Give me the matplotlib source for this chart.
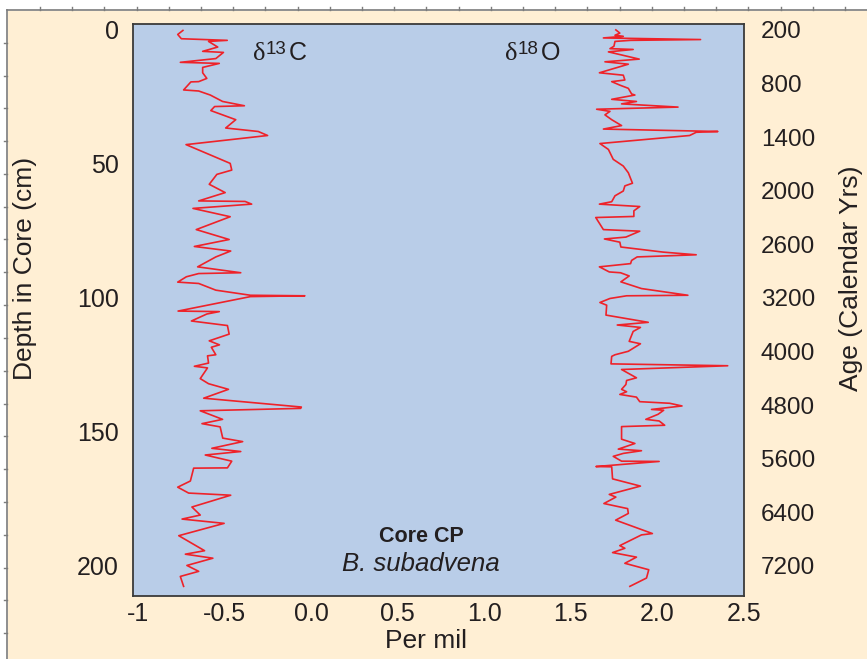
import matplotlib
matplotlib.use('Agg')
import matplotlib.pyplot as plt
from matplotlib.lines import Line2D
from matplotlib.patches import Rectangle

W, H = 867, 659

# ---------------- data ----------------
d13c_depth = [0.2, 1.7, 3.3, 3.9, 4.3, 6.4, 8.0, 8.4, 10.7, 12.1, 12.5, 14.0, 16.0, 18.1,
              19.3, 19.4, 22.4, 22.8, 24.3, 26.7, 28.3, 28.6, 30.1, 33.5, 36.6, 37.9, 39.4,
              42.8, 49.8, 52.3, 53.9, 57.6, 60.7, 63.8, 64.0, 65.0, 66.6, 69.7, 74.5, 78.2,
              80.8, 82.5, 84.7, 88.4, 90.6, 90.9, 92.1, 94.1, 94.6, 97.1, 99.0, 99.2, 99.5,
              104.9, 105.1, 106.0, 108.6, 110.3, 113.5, 116.0, 117.5, 118.4, 121.2, 121.6,
              124.3, 125.5, 126.1, 130.1, 132.0, 134.1, 137.4, 140.7, 141.2, 142.1, 145.3,
              146.9, 148.1, 152.3, 153.6, 156.1, 157.3, 158.6, 160.9, 163.4, 163.5, 168.3,
              170.6, 172.8, 173.6, 178.0, 181.0, 182.5, 184.1, 188.7, 194.3, 195.6, 197.1,
              199.8, 202.0, 203.9, 207.6]
d13c_value = [-0.740, -0.770, -0.749, -0.484, -0.592, -0.539, -0.626, -0.506, -0.550, -0.755,
              -0.530, -0.626, -0.626, -0.602, -0.649, -0.694, -0.736, -0.649, -0.582, -0.511,
              -0.385, -0.557, -0.579, -0.435, -0.493, -0.305, -0.251, -0.722, -0.467, -0.458,
              -0.544, -0.588, -0.496, -0.649, -0.381, -0.343, -0.682, -0.467, -0.663, -0.473,
              -0.674, -0.464, -0.550, -0.655, -0.406, -0.649, -0.720, -0.770, -0.649, -0.550,
              -0.350, -0.036, -0.350, -0.768, -0.530, -0.602, -0.691, -0.483, -0.473, -0.588,
              -0.529, -0.576, -0.550, -0.598, -0.592, -0.674, -0.598, -0.640, -0.592, -0.477,
              -0.620, -0.056, -0.060, -0.640, -0.511, -0.630, -0.525, -0.510, -0.395, -0.573,
              -0.406, -0.611, -0.458, -0.483, -0.678, -0.697, -0.770, -0.707, -0.464, -0.688,
              -0.640, -0.745, -0.502, -0.764, -0.615, -0.726, -0.567, -0.717, -0.649, -0.755,
              -0.736]

d18o_depth = [0.0, 1.2, 2.0, 2.4, 3.0, 3.6, 3.9, 4.3, 6.1, 7.0, 7.3, 8.2, 10.9, 11.9, 12.8,
              16.0, 16.9, 18.7, 19.3, 20.6, 21.8, 23.9, 24.3, 25.9, 26.7, 27.6, 28.8, 29.6,
              30.4, 31.7, 33.5, 35.7, 37.0, 37.9, 38.2, 39.4, 42.4, 44.6, 48.3, 50.8, 53.3,
              57.2, 58.2, 60.1, 61.9, 64.1, 65.0, 65.9, 67.5, 69.6, 70.0, 74.5, 75.1, 77.3,
              78.0, 79.2, 81.0, 82.9, 83.9, 84.7, 86.0, 87.2, 88.4, 90.3, 90.6, 91.8, 94.0,
              96.5, 99.0, 99.2, 100.2, 101.7, 102.7, 106.4, 109.1, 110.1, 111.0, 112.5, 116.2,
              117.1, 119.9, 121.2, 121.8, 124.6, 125.3, 126.7, 129.8, 130.8, 132.3, 134.1,
              135.0, 136.0, 137.0, 138.7, 139.3, 140.3, 141.6, 141.9, 143.4, 145.3, 145.9,
              147.5, 148.0, 152.7, 154.3, 156.4, 157.0, 158.0, 159.1, 160.9, 161.0, 162.9,
              163.0, 167.5, 170.2, 172.4, 173.3, 174.3, 176.7, 178.6, 180.4, 182.9, 187.9,
              188.4, 192.4, 193.4, 195.0, 196.7, 199.0, 201.4, 204.5, 207.6]
d18o_value = [1.760, 1.783, 1.755, 1.803, 1.688, 2.249, 1.845, 1.755, 1.749, 1.726, 1.860,
              1.717, 1.895, 1.697, 1.832, 1.665, 1.803, 1.812, 1.736, 1.783, 1.832, 1.851,
              1.870, 1.736, 1.879, 1.793, 2.119, 1.649, 1.726, 1.697, 1.736, 1.793, 1.688,
              2.349, 2.224, 2.186, 1.668, 1.717, 1.745, 1.803, 1.832, 1.856, 1.812, 1.803,
              1.755, 1.736, 1.665, 1.898, 1.864, 1.864, 1.644, 1.688, 1.898, 1.818, 1.694,
              1.783, 1.789, 2.033, 2.224, 1.883, 1.851, 1.845, 1.665, 1.722, 1.787, 1.837,
              1.789, 1.908, 2.176, 1.822, 1.726, 1.668, 1.707, 1.703, 1.947, 1.768, 1.902,
              1.860, 1.837, 1.902, 1.832, 1.755, 1.736, 1.732, 2.406, 1.793, 1.879, 1.822,
              1.818, 1.793, 1.822, 1.783, 1.879, 1.898, 2.071, 2.142, 1.966, 2.036, 2.004,
              1.933, 2.010, 2.042, 1.793, 1.793, 1.870, 1.774, 1.908, 1.803, 1.745, 1.793,
              2.010, 1.645, 1.736, 1.741, 1.902, 1.774, 1.722, 1.760, 1.691, 1.828, 1.832,
              1.759, 1.971, 1.908, 1.783, 1.812, 1.741, 1.879, 1.812, 1.950, 1.937, 1.841]

x_ticks = [-1, -0.5, 0.0, 0.5, 1.0, 1.5, 2.0, 2.5]
x_tick_labels = ['-1', '-0.5', '0.0', '0.5', '1.0', '1.5', '2.0', '2.5']
depth_ticks = [0, 50, 100, 150, 200]
age_tick_depths = [0, 20, 40, 60, 80, 100, 120, 140, 160, 180, 200]
age_labels = ['200', '800', '1400', '2000', '2600', '3200', '4000', '4800', '5600', '6400', '7200']

# ---------------- style ----------------
CREAM = '#FFEFD4'
PLOT_BG = '#B9CDE8'
LINE_RED = '#EE2229'
TEXT = '#231F20'
FRAME = '#7C7C7C'
SANS = 'Liberation Sans'


def px(x):
    return x / W


def py(y):
    return 1 - y / H


fig = plt.figure(figsize=(W / 100, H / 100), dpi=100)
fig.patch.set_facecolor('white')

# cream page with ruler-like frame
fig.add_artist(Rectangle((px(7.5), 0), 1 - px(7.5), py(10.5), transform=fig.transFigure,
                         facecolor=CREAM, edgecolor='none', zorder=-10))
fig.add_artist(Line2D([px(7), 1], [py(10), py(10)], transform=fig.transFigure,
                      color=FRAME, lw=1.2))
fig.add_artist(Line2D([px(7), px(7)], [py(10), 0], transform=fig.transFigure,
                      color=FRAME, lw=1.2))
xt = 40.0
while xt < W:
    fig.add_artist(Line2D([px(xt), px(xt)], [py(10), py(7)], transform=fig.transFigure,
                          color=FRAME, lw=1.0))
    xt += 32.2
yt = 42.7
while yt < H:
    fig.add_artist(Line2D([px(7), px(4)], [py(yt), py(yt)], transform=fig.transFigure,
                          color=FRAME, lw=1.0))
    yt += 32.8

# main axes
left, right, top, bottom = 132.7, 744.0, 24.0, 596.0
ax = fig.add_axes([px(left), py(bottom), px(right - left), (bottom - top) / H])
ax.set_facecolor(PLOT_BG)
for s in ax.spines.values():
    s.set_color('#3A3A3A')
    s.set_linewidth(1.3)

ax.plot(d13c_value, d13c_depth, color=LINE_RED, lw=1.2)
ax.plot(d18o_value, d18o_depth, color=LINE_RED, lw=1.2)

ax.set_xlim(-1.03, 2.5)
ax.set_ylim(211.2, -2.2)

ax.set_xticks(x_ticks)
ax.set_xticklabels(x_tick_labels, family=SANS, size=18, color=TEXT)
ax.set_yticks(depth_ticks)
ax.set_yticklabels([str(d) for d in depth_ticks], family=SANS, size=18, color=TEXT)
ax.tick_params(axis='x', length=0, pad=4)
ax.tick_params(axis='y', length=0, pad=10)

ax2 = ax.twinx()
ax2.set_ylim(ax.get_ylim())
ax2.set_yticks(age_tick_depths)
ax2.set_yticklabels(age_labels, family=SANS, size=17.5, color=TEXT)
ax2.tick_params(axis='y', length=0, pad=12)
for s in ax2.spines.values():
    s.set_visible(False)

# axis titles
fig.text(px(426), py(641), 'Per mil', family=SANS, size=19, color=TEXT,
         ha='center', va='center')
fig.text(px(25), py(268), 'Depth in Core (cm)', family=SANS, size=19, color=TEXT,
         rotation=90, ha='center', va='center')
fig.text(px(851), py(278), 'Age (Calendar Yrs)', family=SANS, size=19, color=TEXT,
         rotation=90, ha='center', va='center')

# in-plot annotations
fig.text(px(421), py(536), 'Core CP', family=SANS, size=15.5, weight='bold', color=TEXT,
         ha='center', va='center')
fig.text(px(421), py(564), 'B. subadvena', family=SANS, size=18.5, style='italic', color=TEXT,
         ha='center', va='center')

renderer = fig.canvas.get_renderer()


def delta_label(x_left, baseline, sup, letter):
    t1 = fig.text(px(x_left), py(baseline), 'δ', family='Liberation Serif', size=19,
                  color=TEXT, va='baseline', ha='left')
    bb = t1.get_window_extent(renderer)
    t2 = fig.text(bb.x1 / W + px(0.5), py(baseline - 6.5), sup, family=SANS, size=13.5,
                  color=TEXT, va='baseline', ha='left')
    bb2 = t2.get_window_extent(renderer)
    fig.text(bb2.x1 / W + px(2.5), py(baseline), letter, family=SANS, size=18,
             color=TEXT, va='baseline', ha='left')


delta_label(252.5, 60.5, '13', 'C')
delta_label(505, 60.5, '18', 'O')

fig.savefig('out.png', dpi=100, facecolor=fig.get_facecolor())
